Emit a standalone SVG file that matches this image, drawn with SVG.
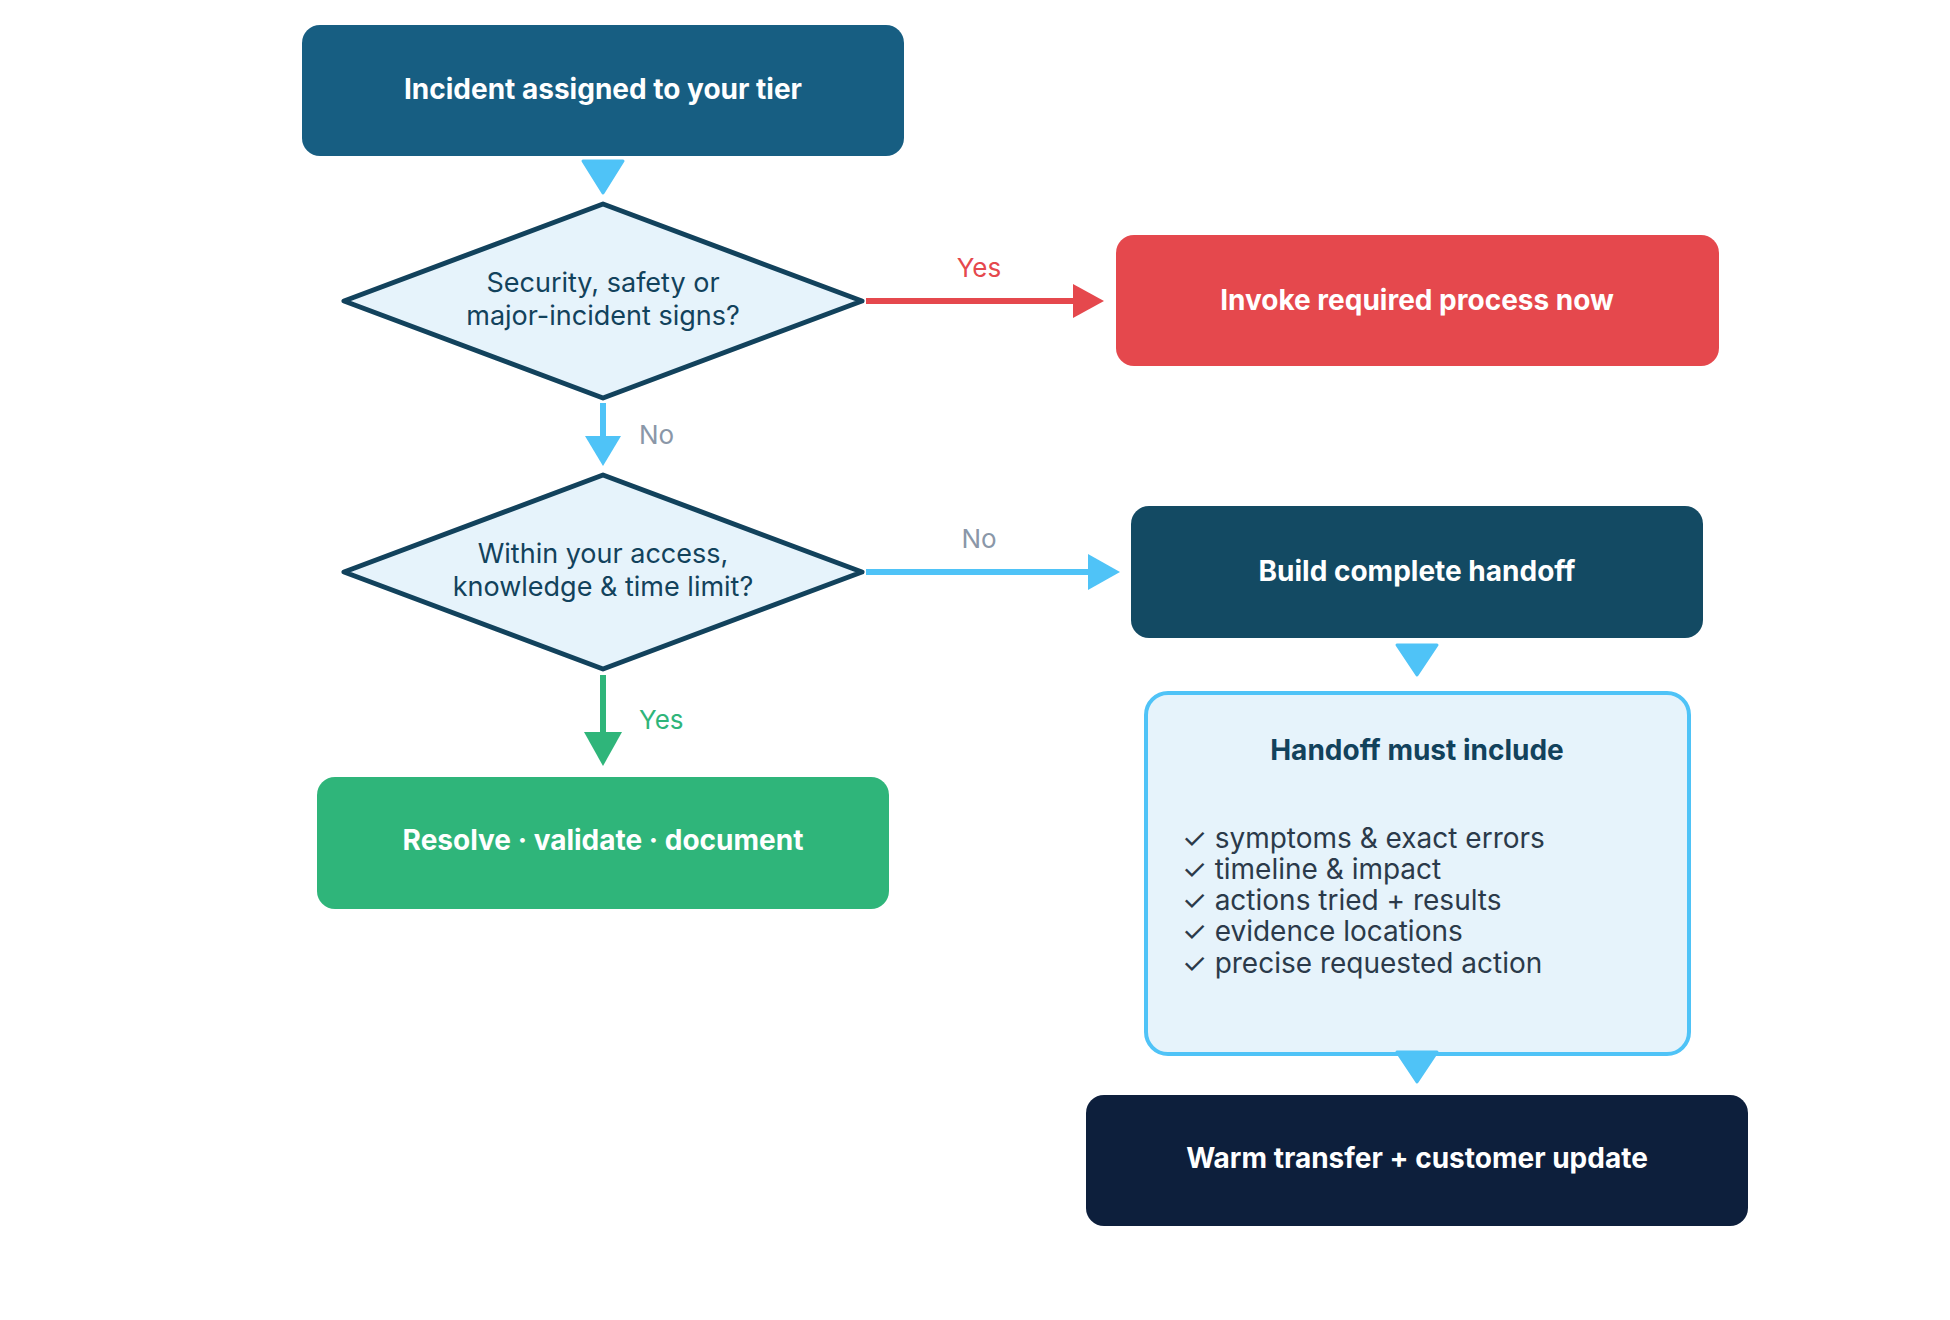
<svg xmlns="http://www.w3.org/2000/svg" width="1950" height="1320" viewBox="0 0 1950 1320">
<style>
.t{font-family:Inter,"Open Sans",sans-serif;font-weight:700;font-size:28px;fill:#fff;text-anchor:middle;dominant-baseline:central}
.d{font-family:Inter,"Open Sans",sans-serif;font-size:27px;fill:#12425c;text-anchor:middle}
.dia{fill:#e6f3fb;stroke:#12425c;stroke-width:5;stroke-linejoin:round}
.lbl{font-family:Inter,"Open Sans",sans-serif;font-size:26px}
.it{font-family:Inter,"Open Sans",sans-serif;font-size:28px;fill:#2b3a4a}
</style>
<rect width="1950" height="1320" fill="#fff"/>
<g id="n1"><rect x="302" y="25" width="602" height="131" rx="18" fill="#175e82"/><text class="t" x="603" y="89">Incident assigned to your tier</text></g>
<g id="n2"><polygon class="dia" points="344,301 603,204 862,301 603,398"/><text class="d" x="603" y="292">Security, safety or</text><text class="d" x="603" y="325">major-incident signs?</text></g>
<g id="n3"><rect x="1116" y="235" width="603" height="131" rx="18" fill="#e5484d"/><text class="t" x="1417" y="300">Invoke required process now</text></g>
<g id="n4"><polygon class="dia" points="344,572 603,475 862,572 603,669"/><text class="d" x="603" y="563">Within your access,</text><text class="d" x="603" y="596">knowledge &amp; time limit?</text></g>
<g id="n5"><rect x="1131" y="506" width="572" height="132" rx="18" fill="#134a63"/><text class="t" x="1417" y="571">Build complete handoff</text></g>
<g id="n6"><rect x="317" y="777" width="572" height="132" rx="18" fill="#2fb57a"/><text class="t" x="603" y="840">Resolve · validate · document</text></g>
<g id="n7"><rect x="1146" y="693" width="543" height="361" rx="22" fill="#e6f3fb" stroke="#4fc3f7" stroke-width="4"/>
<text class="t" x="1417" y="750" style="fill:#12425c">Handoff must include</text>
<text class="it" x="1182" y="848">✓ symptoms &amp; exact errors</text>
<text class="it" x="1182" y="879">✓ timeline &amp; impact</text>
<text class="it" x="1182" y="910">✓ actions tried + results</text>
<text class="it" x="1182" y="941">✓ evidence locations</text>
<text class="it" x="1182" y="973">✓ precise requested action</text></g>
<g id="n8"><rect x="1086" y="1095" width="662" height="131" rx="18" fill="#0d1f3c"/><text class="t" x="1417" y="1158">Warm transfer + customer update</text></g>
<g id="connectors">
<polygon points="583,161 623,161 603,193" fill="#4fc3f7" stroke="#4fc3f7" stroke-width="3" stroke-linejoin="round"/>
<line x1="866" y1="301" x2="1075" y2="301" stroke="#e5484d" stroke-width="6"/>
<polygon points="1073,284 1104,301 1073,318" fill="#e5484d"/>
<text class="lbl" x="979" y="277" fill="#e5484d" text-anchor="middle">Yes</text>
<line x1="603" y1="403" x2="603" y2="440" stroke="#4fc3f7" stroke-width="6"/>
<polygon points="585,436 621,436 603,466" fill="#4fc3f7"/>
<text class="lbl" x="639" y="444" fill="#8a97a8">No</text>
<line x1="866" y1="572" x2="1090" y2="572" stroke="#4fc3f7" stroke-width="6"/>
<polygon points="1088,554 1120,572 1088,590" fill="#4fc3f7"/>
<text class="lbl" x="979" y="548" fill="#8a97a8" text-anchor="middle">No</text>
<line x1="603" y1="675" x2="603" y2="735" stroke="#2fb57a" stroke-width="6"/>
<polygon points="584,732 622,732 603,766" fill="#2fb57a"/>
<text class="lbl" x="639" y="729" fill="#2fb57a">Yes</text>
<polygon points="1397,645 1437,645 1417,675" fill="#4fc3f7" stroke="#4fc3f7" stroke-width="3" stroke-linejoin="round"/>
<polygon points="1397,1052 1437,1052 1417,1082" fill="#4fc3f7" stroke="#4fc3f7" stroke-width="3" stroke-linejoin="round"/>
</g>
</svg>
